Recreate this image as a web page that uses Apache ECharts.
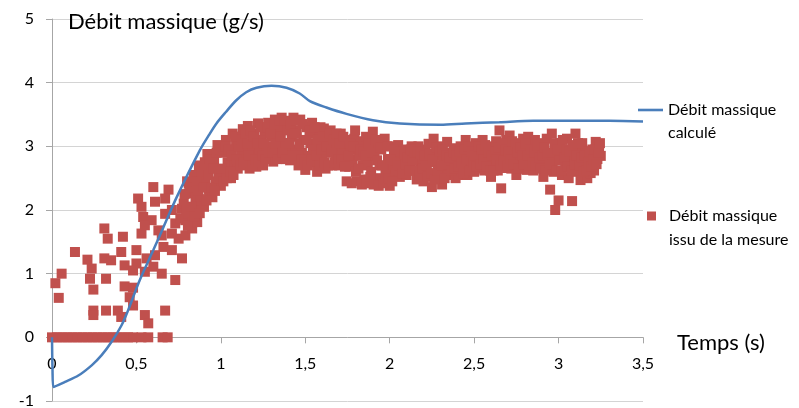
<!DOCTYPE html>
<html>
<head>
<meta charset="utf-8">
<script src="https://cdn.jsdelivr.net/npm/echarts@6/dist/echarts.min.js"></script>
<style>
html,body{margin:0;padding:0;background:#fff;}
#chart{width:799px;height:408px;}
</style>
</head>
<body>
<div id="chart"></div>
<script>
const xTickLabels = ['0','0,5','1','1,5','2','2,5','3','3,5'];
const yTickLabels = ['-1','0','1','2','3','4','5'];
const calcName = 'Débit massique calculé';
const measName = 'Débit massique issu de la mesure';
const calcLegendText = ['Débit massique', 'calculé'];
const measLegendText = ['Débit massique', 'issu de la mesure'];
const yTitle = 'Débit massique (g/s)';
const xTitle = 'Temps (s)';

const calculated = [
  [0,0],[0.003,-0.5],[0.008,-0.78],[0.077,-0.70],[0.156,-0.60],[0.235,-0.44],[0.294,-0.28],
  [0.353,-0.07],[0.412,0.19],[0.45,0.42],[0.52,0.90],[0.6,1.37],[0.66,1.73],[0.74,2.21],
  [0.876,2.94],[0.93,3.18],[0.974,3.36],[1.03,3.54],[1.09,3.72],[1.15,3.85],[1.211,3.92],
  [1.30,3.95],[1.389,3.92],[1.467,3.83],[1.527,3.71],[1.625,3.61],[1.744,3.51],[1.90,3.41],
  [2.06,3.36],[2.30,3.34],[2.45,3.36],[2.65,3.38],[2.85,3.40],[3.05,3.40],[3.3,3.40],[3.5,3.39]
];

const measuredZero = [
  [0,0],[0.03,0],[0.06,0],[0.09,0],[0.12,0],[0.15,0],[0.18,0],[0.21,0],[0.24,0],
  [0.27,0],[0.30,0],[0.33,0],[0.36,0],[0.39,0],[0.42,0],[0.45,0],[0.48,0],
  [0.53,0],[0.57,0],[0.655,0],[0.685,0]
];

const measuredRise = [
  [0.60,2.36],[0.69,2.32],[0.51,2.18],[0.61,2.13],[0.53,2.05],[0.54,1.89],[0.31,1.71],
  [0.33,1.55],[0.42,1.58],[0.59,1.84],[0.53,1.63],[0.63,1.68],[0.136,1.34],[0.21,1.22],
  [0.235,1.08],[0.225,0.92],[0.31,1.24],[0.35,1.21],[0.41,1.34],[0.50,1.37],[0.43,1.13],
  [0.50,1.16],[0.56,1.24],[0.48,1.05],[0.55,1.03],[0.60,1.11],[0.65,1.00],[0.32,0.92],
  [0.057,1.00],[0.02,0.85],[0.04,0.62],[0.245,0.75],[0.43,0.80],[0.48,0.78],[0.46,0.63],
  [0.48,0.50],[0.73,0.90],[0.245,0.42],[0.245,0.35],[0.32,0.42],[0.39,0.42],[0.41,0.32],
  [0.55,0.35],[0.57,0.22],[0.67,0.42],[0.61,1.29],[0.66,1.42],[0.71,1.37],[0.77,1.24],
  [0.65,1.60],[0.71,1.63],[0.75,1.55],[0.79,1.60],[0.73,1.79],[0.79,1.84],[0.83,1.71],
  [0.86,1.81],[0.71,2.00],[0.77,2.02],[0.83,2.05],[0.87,2.08],[0.67,2.18],[0.81,2.26],
  [0.86,2.31],[0.81,2.42],[0.88,2.52],[0.87,2.18],[0.55,1.76],[0.67,1.94],[0.76,1.87]
];

const measuredBand = [
  [0.78,2.10],[0.79,1.85],[0.80,2.45],[0.81,1.95],[0.82,2.30],[0.83,1.80],[0.84,2.55],
  [0.85,2.20],[0.86,2.00],[0.87,2.70],[0.88,2.15],[0.89,2.55],
  [0.90,2.05],[0.91,2.40],[0.92,2.88],[0.93,2.25],[0.94,2.65],
  [0.95,2.20],[0.96,2.80],[0.97,2.45],[0.98,3.02],[0.99,2.60],
  [1.00,2.38],[1.01,2.90],[1.02,2.55],[1.03,3.10],[1.04,2.75],
  [1.05,2.95],[1.06,2.50],[1.07,3.20],[1.08,2.70],[1.09,3.05],
  [1.10,2.65],[1.11,3.15],[1.12,2.85],[1.13,3.27],[1.14,2.95],
  [1.15,2.75],[1.16,3.32],[1.17,2.65],[1.18,3.05],[1.19,2.90],
  [1.20,3.20],[1.21,2.68],[1.22,3.36],[1.23,2.95],[1.24,3.10],
  [1.25,2.70],[1.26,3.25],[1.27,3.00],[1.28,3.37],[1.29,2.80],
  [1.30,3.15],[1.31,2.76],[1.32,3.42],[1.33,2.95],[1.34,3.28],
  [1.35,2.80],[1.36,3.45],[1.37,3.05],[1.38,3.30],[1.39,2.90],
  [1.40,3.40],[1.41,2.78],[1.42,3.15],[1.43,3.45],[1.44,2.95],
  [1.45,3.25],[1.46,2.70],[1.47,3.42],[1.48,2.90],[1.49,3.10],
  [1.50,2.63],[1.51,3.30],[1.52,2.85],[1.53,3.05],[1.54,3.37],
  [1.55,2.75],[1.56,3.20],[1.57,2.60],[1.58,3.00],[1.59,3.30],
  [1.60,2.85],[1.61,3.28],[1.62,2.65],[1.63,3.10],[1.64,2.95],
  [1.65,3.25],[1.66,2.70],[1.67,3.00],[1.68,2.85],[1.69,3.15],
  [1.70,2.70],[1.71,3.20],[1.72,2.90],[1.73,3.05],[1.74,2.75],
  [1.75,3.10],[1.76,2.68],[1.77,2.95],[1.78,2.80],[1.79,3.12],
  [1.80,2.60],[1.81,3.00],[1.82,2.85],[1.83,3.08],[1.84,2.70],
  [1.85,2.48],[1.86,3.15],[1.87,2.75],[1.88,2.95],[1.89,2.60],
  [1.90,3.23],[1.91,2.85],[1.92,2.50],[1.93,3.05],[1.94,2.70],
  [1.95,2.95],[1.96,2.45],[1.97,3.12],[1.98,2.65],[1.99,2.80],
  [2.00,2.38],[2.01,3.00],[2.02,2.70],[2.03,2.55],[2.04,2.88],
  [2.05,3.02],[2.06,2.52],[2.07,2.80],[2.08,2.65],[2.09,2.95],
  [2.10,2.55],[2.11,2.90],[2.12,2.72],[2.13,3.00],[2.14,2.62],
  [2.15,2.85],[2.16,2.48],[2.17,3.00],[2.18,2.68],[2.19,2.78],
  [2.20,2.45],[2.21,2.95],[2.22,2.60],[2.23,3.04],[2.24,2.75],
  [2.25,2.36],[2.26,3.12],[2.27,2.55],[2.28,2.85],[2.29,2.70],
  [2.30,3.00],[2.31,2.40],[2.32,2.80],[2.33,2.62],[2.34,3.07],
  [2.35,2.55],[2.36,2.90],[2.37,2.70],[2.38,2.97],[2.39,2.50],
  [2.40,2.80],[2.41,2.55],[2.42,3.00],[2.43,2.65],[2.44,2.88],
  [2.45,3.10],[2.46,2.55],[2.47,2.85],[2.48,2.70],[2.49,2.98],
  [2.50,2.60],[2.51,3.05],[2.52,2.78],[2.53,2.92],[2.54,2.65],
  [2.55,3.10],[2.56,2.62],[2.57,2.85],[2.58,2.98],[2.59,2.72],
  [2.60,2.52],[2.61,3.00],[2.62,2.75],[2.63,3.08],[2.64,2.62],
  [2.65,3.25],[2.66,2.34],[2.67,2.90],[2.68,2.66],[2.69,3.10],
  [2.70,2.75],[2.71,3.17],[2.72,2.65],[2.73,2.98],[2.74,2.85],
  [2.75,2.55],[2.76,3.05],[2.77,2.80],[2.78,2.65],[2.79,3.12],
  [2.80,2.92],[2.81,2.63],[2.82,3.15],[2.83,2.78],[2.84,3.00],
  [2.85,2.62],[2.86,3.10],[2.87,2.85],[2.88,2.72],[2.89,2.95],
  [2.90,3.05],[2.91,2.52],[2.92,2.80],[2.93,3.12],[2.94,2.65],
  [2.95,2.32],[2.96,3.20],[2.97,2.60],[2.98,2.00],[2.99,2.85],
  [3.00,2.15],[3.01,3.05],[3.02,2.55],[3.03,2.90],[3.04,2.70],
  [3.05,3.12],[3.06,2.50],[3.07,2.80],[3.08,2.14],[3.09,2.95],
  [3.10,3.20],[3.11,2.60],[3.12,2.90],[3.13,2.47],[3.14,3.05],
  [3.15,2.70],[3.16,2.92],[3.17,2.50],[3.18,2.80],[3.19,2.58],
  [3.20,2.95],[3.21,2.62],[3.22,3.07],[3.23,2.80],[3.24,3.00],[3.25,2.85]
];

const measuredBandB = [
  [0.785,2.25],[0.795,2.00],[0.805,1.75],[0.815,2.40],[0.825,2.05],[0.835,2.35],[0.845,1.90],
  [0.855,2.45],[0.865,2.30],[0.875,1.95],[0.885,2.60],[0.895,2.35],
  [0.905,2.75],[0.915,2.15],[0.925,2.55],[0.935,2.80],[0.945,2.35],
  [0.955,2.65],[0.965,2.30],[0.975,2.90],[0.985,2.50],[0.995,2.95],
  [1.005,2.65],[1.015,2.45],[1.025,3.00],[1.035,2.50],[1.045,2.95],
  [1.055,2.60],[1.065,2.85],[1.075,2.55],[1.085,3.15],[1.095,2.80],
  [1.105,3.00],[1.115,2.70],[1.125,3.10],[1.135,2.75],[1.145,3.20],
  [1.155,3.05],[1.165,2.85],[1.175,3.25],[1.185,2.70],[1.195,3.15],
  [1.205,2.80],[1.215,3.05],[1.225,2.75],[1.235,3.30],[1.245,2.85],
  [1.255,3.05],[1.265,2.80],[1.275,3.30],[1.285,2.90],[1.295,3.20],
  [1.305,2.90],[1.315,3.35],[1.325,3.05],[1.335,2.80],[1.345,3.40],
  [1.355,3.15],[1.365,2.90],[1.375,3.40],[1.385,2.80],[1.395,3.25],
  [1.405,3.05],[1.415,3.35],[1.425,2.85],[1.435,3.20],[1.445,3.40],
  [1.455,2.85],[1.465,3.05],[1.475,2.80],[1.485,3.35],[1.495,2.75],
  [1.505,3.10],[1.515,2.70],[1.525,3.25],[1.535,2.80],[1.545,2.95],
  [1.555,3.30],[1.565,2.85],[1.575,3.10],[1.585,2.70],[1.595,2.95],
  [1.605,3.15],[1.615,2.75],[1.625,3.00],[1.635,2.70],[1.645,3.20],
  [1.655,2.90],[1.665,3.10],[1.675,2.75],[1.685,3.20],[1.695,2.80],
  [1.705,3.05],[1.715,2.80],[1.725,3.15],[1.735,2.68],[1.745,2.45],
  [1.755,2.85],[1.765,3.05],[1.775,2.42],[1.785,3.00],[1.795,3.25],
  [1.805,2.45],[1.815,2.65],[1.825,2.95],[1.835,2.40],[1.845,2.92],
  [1.855,2.85],[1.865,2.42],[1.875,3.05],[1.885,2.52],[1.895,2.90],
  [1.905,2.40],[1.915,3.10],[1.925,2.78],[1.935,2.38],[1.945,2.98],
  [1.955,2.70],[1.965,2.42],[1.975,2.55],[1.985,3.00],[1.995,2.50],
  [2.005,2.80],[2.015,2.45],[2.025,2.95],[2.035,2.62],[2.045,2.75],
  [2.055,2.70],[2.065,2.92],[2.075,2.58],[2.085,2.88],[2.095,2.72],
  [2.105,2.82],[2.115,2.62],[2.125,2.95],[2.135,2.78],[2.145,2.90],
  [2.155,2.62],[2.165,2.92],[2.175,2.55],[2.185,2.88],[2.195,2.65],
  [2.205,2.85],[2.215,2.70],[2.225,2.52],[2.235,2.88],[2.245,2.58],
  [2.255,2.80],[2.265,2.48],[2.275,2.98],[2.285,2.62],[2.295,2.92],
  [2.305,2.70],[2.315,2.95],[2.325,2.50],[2.335,2.85],[2.345,2.72],
  [2.355,2.82],[2.365,2.62],[2.375,2.90],[2.385,2.65],[2.395,2.85],
  [2.405,2.68],[2.415,2.92],[2.425,2.75],[2.435,2.58],[2.445,2.95],
  [2.455,2.80],[2.465,3.00],[2.475,2.62],[2.485,2.92],[2.495,2.75],
  [2.505,2.85],[2.515,2.68],[2.525,3.00],[2.535,2.72],[2.545,2.95],
  [2.555,2.80],[2.565,3.02],[2.575,2.68],[2.585,2.90],[2.595,2.62],
  [2.605,2.85],[2.615,2.62],[2.625,2.92],[2.635,2.80],[2.645,2.98],
  [2.655,2.70],[2.665,3.05],[2.675,2.78],[2.685,2.95],[2.695,2.70],
  [2.705,2.92],[2.715,2.80],[2.725,3.08],[2.735,2.72],[2.745,3.02],
  [2.755,2.90],[2.765,2.65],[2.775,2.98],[2.785,2.85],[2.795,2.72],
  [2.805,3.05],[2.815,2.85],[2.825,2.70],[2.835,2.95],[2.845,2.75],
  [2.855,2.90],[2.865,2.70],[2.875,3.02],[2.885,2.82],[2.895,2.65],
  [2.905,2.85],[2.915,2.98],[2.925,2.62],[2.935,2.88],[2.945,2.75],
  [2.955,2.90],[2.965,2.72],[2.975,3.05],[2.985,2.62],[2.995,2.95],
  [3.005,2.78],[3.015,2.62],[3.025,3.10],[3.035,2.82],[3.045,2.95],
  [3.055,2.68],[3.065,2.92],[3.075,2.62],[3.085,3.02],[3.095,2.72],
  [3.105,2.85],[3.115,3.05],[3.125,2.70],[3.135,2.82],[3.145,2.60],
  [3.155,2.85],[3.165,2.62],[3.175,2.75],[3.185,2.92],[3.195,2.68],
  [3.205,2.80],[3.215,2.95],[3.225,2.72],[3.235,2.90],[3.245,3.05]
];

const measured = measuredZero.concat(measuredRise, measuredBand, measuredBandB);

const FONT = 'Lato';
const Y_MIN = -1, Y_MAX = 5;
const GRID_TOP = 19, GRID_BOTTOM = 7, H = 408;
const zeroOffset = -(H - GRID_TOP - GRID_BOTTOM) * (0 - Y_MIN) / (Y_MAX - Y_MIN);

const chart = echarts.init(document.getElementById('chart'), null, {renderer: 'canvas'});
chart.setOption({
  animation: false,
  backgroundColor: '#ffffff',
  textStyle: {fontFamily: FONT},
  grid: {left: 52, right: 156, top: GRID_TOP, bottom: GRID_BOTTOM, containLabel: false, outerBoundsMode: 'none'},
  legend: [
    {
      data: [{name: calcName, icon: 'path://M0,0L25,0L25,2.6L0,2.6Z'}],
      orient: 'vertical', left: 638, top: 75.5, padding: 0,
      itemWidth: 25, itemHeight: 14,
      formatter: () => ' \n' + calcLegendText.join('\n'),
      textStyle: {fontFamily: FONT, fontSize: 16, color: '#000', lineHeight: 23}
    },
    {
      data: [{name: measName, icon: 'path://M0,0L10,0L10,10L0,10Z'}],
      orient: 'vertical', left: 647, top: 180, padding: 0,
      itemWidth: 25, itemHeight: 9, symbolKeepAspect: true,
      formatter: () => ' \n' + measLegendText.join('\n'),
      textStyle: {fontFamily: FONT, fontSize: 16, color: '#000', lineHeight: 24}
    }
  ],
  xAxis: {
    type: 'value', min: 0, max: 3.5, interval: 0.5,
    position: 'bottom', offset: zeroOffset,
    name: xTitle, nameLocation: 'end', nameGap: 34,
    nameTextStyle: {fontFamily: FONT, fontSize: 22, color: '#000', align: 'left', verticalAlign: 'top', lineHeight: 11},
    axisLine: {onZero: false, lineStyle: {color: '#a6a6a6', width: 1}},
    axisTick: {show: true, length: 6, lineStyle: {color: '#a6a6a6'}},
    axisLabel: {
      margin: 19, fontFamily: FONT, fontSize: 16, color: '#000',
      formatter: v => xTickLabels[Math.round(v / 0.5)]
    },
    splitLine: {show: false}
  },
  yAxis: {
    type: 'value', min: Y_MIN, max: Y_MAX, interval: 1,
    name: yTitle, nameLocation: 'end', nameGap: -3,
    nameTextStyle: {fontFamily: FONT, fontSize: 22, color: '#000', align: 'left', verticalAlign: 'middle', padding: [0,0,0,16]},
    axisLine: {show: true, onZero: false, lineStyle: {color: '#a6a6a6', width: 1}},
    axisTick: {show: true, length: 6, lineStyle: {color: '#a6a6a6'}},
    axisLabel: {
      margin: 18, fontFamily: FONT, fontSize: 16, color: '#000',
      formatter: v => yTickLabels[Math.round(v - Y_MIN)]
    },
    splitLine: {show: true, lineStyle: {color: '#d4d4d4', width: 1}}
  },
  series: [
    {
      name: measName, type: 'scatter', data: measured,
      symbol: 'rect', symbolSize: 10, z: 2,
      itemStyle: {color: '#c0504d', opacity: 1}
    },
    {
      name: calcName, type: 'line', data: calculated,
      symbol: 'none', showSymbol: false, smooth: 0.3, z: 3,
      lineStyle: {color: '#4a7ebb', width: 2.5},
      itemStyle: {color: '#4a7ebb'}
    }
  ]
});
</script>
</body>
</html>
